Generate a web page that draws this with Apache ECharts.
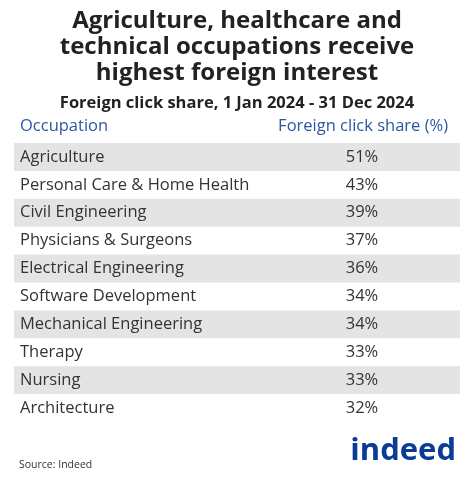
<!DOCTYPE html>
<html>
<head>
<meta charset="utf-8">
<script src="https://cdn.jsdelivr.net/npm/echarts@6/dist/echarts.min.js"></script>
<style>html,body{margin:0;padding:0;background:#fff}#chart{width:474px;height:482px}</style>
</head>
<body>
<div id="chart"></div>
<script>
var occupations = ['Agriculture', 'Personal Care & Home Health', 'Civil Engineering', 'Physicians & Surgeons',
  'Electrical Engineering', 'Software Development', 'Mechanical Engineering', 'Therapy', 'Nursing', 'Architecture']
var shares = [51, 43, 39, 37, 36, 34, 34, 33, 33, 32]

var font = '"Open Sans", "Noto Sans", sans-serif'
var rows = []
for (var i = 0; i < occupations.length; i++) {
  rows.push([0, i, occupations[i], shares[i]])
}

var myChart = echarts.init(document.getElementById('chart'))
var option = {
  animation: false,
  title: [
    {
      text: 'Agriculture, healthcare and\ntechnical occupations receive\nhighest foreign interest',
      left: 'center', top: 3,
      textStyle: { fontFamily: font, fontSize: 24, fontWeight: 'bold', color: '#222', lineHeight: 26, align: 'center' }
    },
    {
      text: 'Foreign click share, 1 Jan 2024 - 31 Dec 2024',
      left: 'center', top: 90,
      textStyle: { fontFamily: font, fontSize: 16.5, fontWeight: 'bold', color: '#222' }
    },
    {
      text: 'Source: Indeed', left: 14, top: 455,
      textStyle: { fontFamily: font, fontSize: 10.5, fontWeight: 'normal', color: '#333' }
    }
  ],
  grid: { left: 14, right: 14, top: 143, height: 279 },
  xAxis: { type: 'value', min: 0, max: 1, show: false },
  yAxis: { type: 'category', data: occupations, inverse: true, show: false },
  graphic: [
    { type: 'text', left: 20, top: 118, style: { text: 'Occupation', font: '16.5px ' + font, fill: '#2d57a0' } },
    { type: 'text', right: 26, top: 118, style: { text: 'Foreign click share (%)', font: '16.5px ' + font, fill: '#2d57a0' } },
    { type: 'text', right: 18, top: 436, style: { text: 'indeed', font: 'bold 31px ' + font, fill: '#0a3c96' } }
  ],
  series: [{
    type: 'custom',
    data: rows,
    renderItem: function (params, api) {
      var idx = api.value(1)
      var p = api.coord([0, idx])
      var h = api.size([0, 1])[1]
      var cs = params.coordSys
      var children = []
      if (idx % 2 === 0) {
        children.push({ type: 'rect', shape: { x: cs.x, y: p[1] - h / 2, width: cs.width, height: h }, style: { fill: '#e4e4e4' } })
      }
      children.push({ type: 'text', x: cs.x + 6, y: p[1],
        style: { text: occupations[idx], font: '16.5px ' + font, fill: '#333', textVerticalAlign: 'middle' } })
      children.push({ type: 'text', x: 362, y: p[1],
        style: { text: shares[idx] + '%', font: '16.5px ' + font, fill: '#333', textAlign: 'center', textVerticalAlign: 'middle' } })
      return { type: 'group', children: children }
    }
  }]
}
myChart.setOption(option)
</script>
</body>
</html>
